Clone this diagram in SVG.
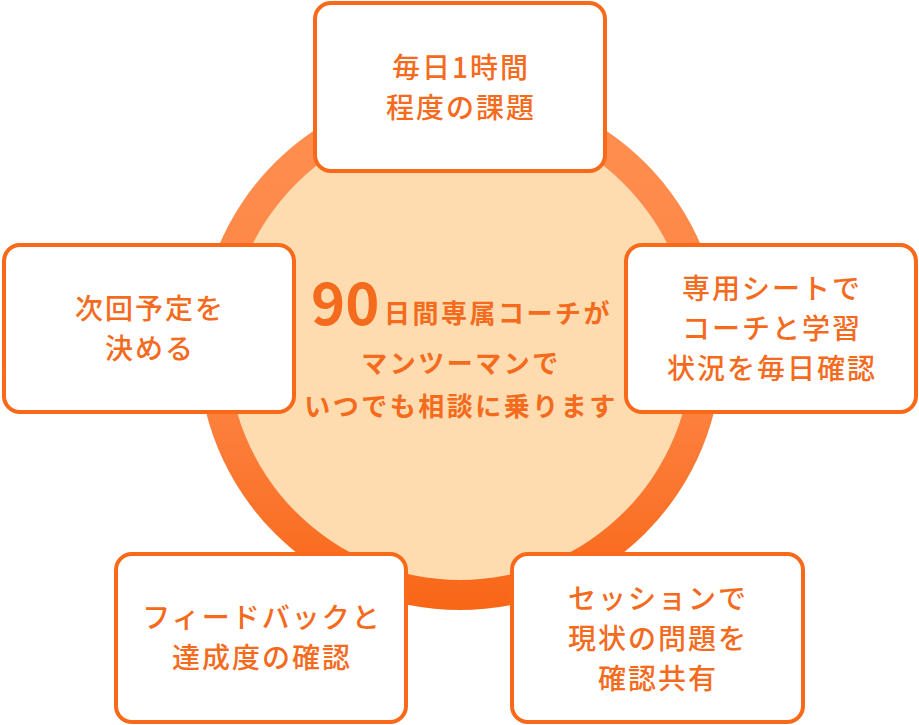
<svg xmlns="http://www.w3.org/2000/svg" width="919" height="725" viewBox="0 0 919 725">
<style>
.box{fill:#fff;stroke:#F86A1A;stroke-width:4}
.t{font-family:"Noto Sans CJK JP","Noto Sans",sans-serif;font-size:28px;font-weight:500;fill:#F56B1E;text-anchor:middle;letter-spacing:2px}
.c{font-family:"Noto Sans CJK JP","Noto Sans",sans-serif;font-size:26px;font-weight:700;fill:#F56B1E;letter-spacing:2.5px}
.big{font-family:"Noto Sans CJK JP","Noto Sans",sans-serif;font-size:58px;font-weight:700;fill:#F56B1E}
</style>
<defs>
<linearGradient id="ring" x1="0" y1="0" x2="0" y2="1">
<stop offset="0" stop-color="#FF9052"/>
<stop offset="0.6" stop-color="#FD8240"/>
<stop offset="1" stop-color="#F86617"/>
</linearGradient>
</defs>
<rect width="919" height="725" fill="#fff"/>
<g id="hub">
<circle cx="460" cy="348" r="262" fill="url(#ring)"/>
<circle cx="460" cy="348" r="232" fill="#FEDCB0"/>
<text class="big" x="311" y="325">90</text>
<text class="c" x="384" y="323">日間専属コーチが</text>
<text class="c" x="461" y="373" text-anchor="middle">マンツーマンで</text>
<text class="c" x="461" y="416" text-anchor="middle">いつでも相談に乗ります</text>
</g>
<g id="connectors"></g>
<g id="n-top">
<rect class="box" x="315" y="3" width="290" height="168" rx="16"/>
<text class="t" x="461" y="77.5">毎日1時間</text>
<text class="t" x="461" y="117.5">程度の課題</text>
</g>
<g id="n-left">
<rect class="box" x="4" y="245" width="290" height="167" rx="16"/>
<text class="t" x="150" y="319">次回予定を</text>
<text class="t" x="150" y="359">決める</text>
</g>
<g id="n-right">
<rect class="box" x="626" y="245" width="290" height="167" rx="16"/>
<text class="t" x="772" y="299">専用シートで</text>
<text class="t" x="772" y="339">コーチと学習</text>
<text class="t" x="772" y="379">状況を毎日確認</text>
</g>
<g id="n-bl">
<rect class="box" x="116" y="554" width="290" height="168" rx="16"/>
<text class="t" x="262" y="628">フィードバックと</text>
<text class="t" x="262" y="668">達成度の確認</text>
</g>
<g id="n-br">
<rect class="box" x="512" y="554" width="291" height="168" rx="16"/>
<text class="t" x="658" y="609">セッションで</text>
<text class="t" x="658" y="649">現状の問題を</text>
<text class="t" x="658" y="689">確認共有</text>
</g>
</svg>
